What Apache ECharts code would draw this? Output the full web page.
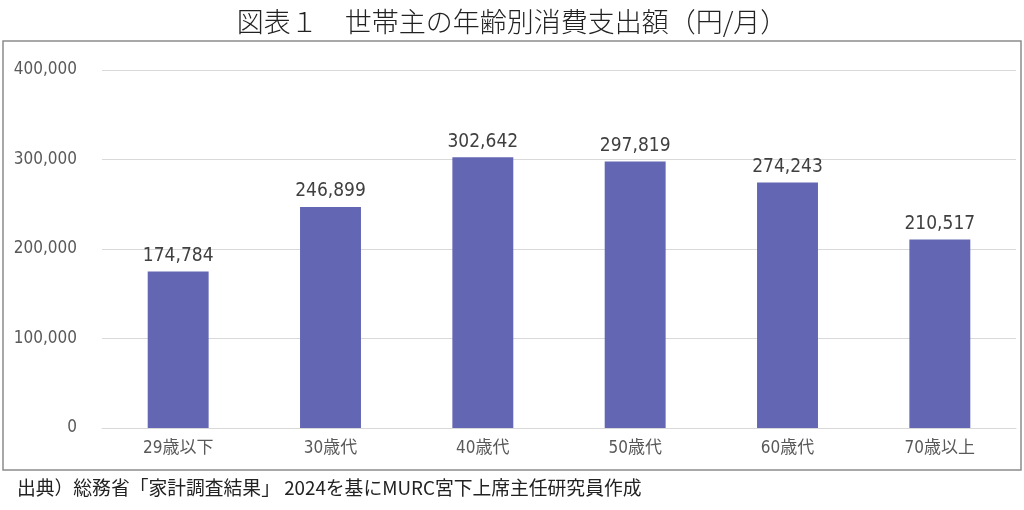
<!DOCTYPE html>
<html><head><meta charset="utf-8">
<script src="https://cdn.jsdelivr.net/npm/echarts@6/dist/echarts.min.js"></script>
<style>html,body{margin:0;padding:0;background:#fff}#c{width:1024px;height:510px}</style>
</head><body><div id="c"></div>
<script>
const categories = ['29歳以下','30歳代','40歳代','50歳代','60歳代','70歳以上'];
const values = [174784, 246899, 302642, 297819, 274243, 210517];
const yTicks = [0, 100000, 200000, 300000, 400000];
const titleText = '図表１　世帯主の年齢別消費支出額（円/月）';
const sourceText = '出典）総務省「家計調査結果」 2024を基にMURC宮下上席主任研究員作成';

const fmt = v => v.toLocaleString('en-US');
const numFont = "'DejaVu Sans Condensed','Noto Sans CJK JP',sans-serif";
const chart = echarts.init(document.getElementById('c'));
chart.setOption({
  animation: false,
  title: {
    text: titleText, left: 'center', top: 3,
    textStyle: {fontFamily: "'Noto Sans CJK JP',sans-serif", fontSize: 27, fontWeight: 300, color: '#222'}
  },
  graphic: [
    {type: 'rect', shape: {x: 3, y: 41, width: 1018, height: 429},
     style: {fill: 'none', stroke: '#8c8c8c', lineWidth: 1.5}, z: 0},
    {type: 'text', left: 17, top: 478,
     style: {text: sourceText, fontFamily: "'Noto Sans CJK JP',sans-serif", fontSize: 18.8, fill: '#222'}}
  ],
  grid: {left: 102, right: 8, top: 70, bottom: 82, containLabel: false},
  xAxis: {
    type: 'category', data: categories,
    axisLine: {show: true, lineStyle: {color: '#d9d9d9', width: 1}},
    axisTick: {show: false},
    axisLabel: {color: '#595959', fontSize: 17, margin: 12, fontFamily: numFont}
  },
  yAxis: {
    type: 'value', min: yTicks[0], max: yTicks[yTicks.length-1], interval: yTicks[1]-yTicks[0],
    axisLine: {show: false}, axisTick: {show: false},
    splitLine: {lineStyle: {color: '#d9d9d9', width: 1}},
    axisLabel: {color: '#595959', fontSize: 17, margin: 25, fontFamily: numFont, formatter: v => fmt(v)}
  },
  series: [{
    type: 'bar', data: values, barWidth: '40%',
    itemStyle: {color: '#6366b2'},
    label: {show: true, position: 'top', distance: 6, color: '#404040', fontSize: 19,
            fontFamily: numFont, formatter: p => fmt(p.value)}
  }]
});
</script></body></html>
